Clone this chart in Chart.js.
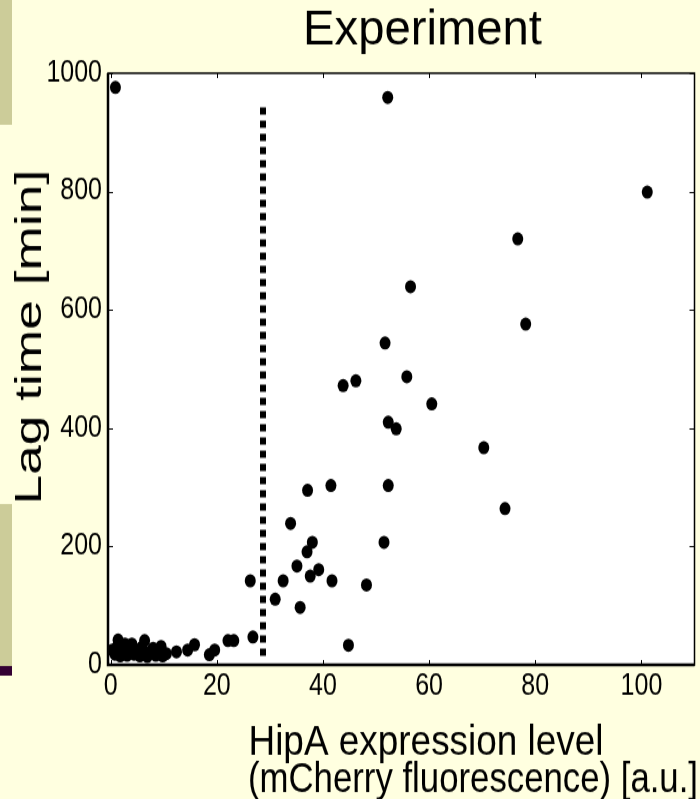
<!DOCTYPE html>
<html>
<head>
<meta charset="utf-8">
<script src="https://cdn.jsdelivr.net/npm/chart.js@4.4.0/dist/chart.umd.min.js"></script>
<style>
  html, body { margin: 0; padding: 0; background: #ffffe0; }
  body { width: 700px; height: 799px; }
  /* the slide picture is stretched vertically, so the canvas is too */
  #wrap { width: 700px; height: 666px; transform: scale(1, 1.2); transform-origin: 0 0; }
  canvas { display: block; }
</style>
</head>
<body>
<div id="wrap"><canvas id="lagChart" width="700" height="666" style="width:700px;height:666px"></canvas></div>
<script>
// HipA expression level (mCherry fluorescence, a.u.)
const expression = [
  0.9, 52.2, 101.1, 76.7, 56.5, 78.2, 51.7, 43.8, 46.2, 55.8,
  60.5, 52.3, 53.8, 70.3, 74.3, 52.3, 41.5, 37.1, 33.9, 38.0,
  51.5, 37.0, 35.1, 39.2, 37.6, 26.3, 32.5, 41.7, 48.2, 31.0,
  35.7, 44.8, 26.8, 23.2, 22.1, 19.6, 18.6, 15.8, 14.5, 12.4,
  9.5, 9.8, 6.4, 1.4, 0.3, 0.8, 1.2, 1.8, 2.3, 2.7,
  3.1, 3.6, 4.0, 4.4, 4.9, 5.5, 5.9, 6.3, 6.9, 7.5,
  8.0, 8.5, 10.5
];
// lag time [min]
const lagTime = [
  976, 959, 799, 720, 639, 576, 544, 472, 480, 487,
  441, 410, 399, 367, 264, 303, 303, 295, 239, 207,
  207, 191, 167, 161, 150, 142, 142, 142, 135, 111,
  97, 33, 47, 41, 41, 25, 17, 34, 25, 22,
  31, 15, 41, 42, 25, 18, 30, 15, 24, 35,
  16, 27, 35, 18, 25, 15, 30, 22, 14, 20,
  28, 16, 19
];
// dotted threshold line
const thresholdX = [28.7, 28.7];
const thresholdY = [15, 950];

const xTicks = [0, 20, 40, 60, 80, 100];
const yTicks = [0, 200, 400, 600, 800, 1000];

const FONT = '"Liberation Sans", Arial, sans-serif';

function fittedText(ctx, text, x, y, size, width, angle, baseline) {
  ctx.save();
  ctx.translate(x, y);
  ctx.rotate(angle);
  ctx.font = size + 'px ' + FONT;
  const w = ctx.measureText(text).width;
  ctx.scale(width / w, 1);
  ctx.textAlign = 'center';
  ctx.textBaseline = baseline;
  ctx.fillStyle = '#000';
  ctx.fillText(text, 0, 0);
  ctx.restore();
}

const slideDecor = {
  id: 'slideDecor',
  beforeDraw(chart) {
    const { ctx, chartArea: a } = chart;
    ctx.save();
    ctx.fillStyle = '#ffffe0';
    ctx.fillRect(0, 0, chart.width, chart.height);
    ctx.fillStyle = '#cccc99';
    ctx.fillRect(0, 0, 12, 104);
    ctx.fillRect(0, 420, 12, 135);
    ctx.fillStyle = '#330033';
    ctx.fillRect(0, 555, 12, 8);
    ctx.fillStyle = '#ffffff';
    ctx.fillRect(a.left, a.top, a.right - a.left, a.bottom - a.top);
    ctx.restore();
  },
  afterDraw(chart) {
    const { ctx, chartArea: a, scales } = chart;
    ctx.save();
    ctx.strokeStyle = '#000';
    // inward ticks, all four sides
    ctx.lineWidth = 1;
    ctx.beginPath();
    scales.x.ticks.forEach(t => {
      const px = Math.round(scales.x.getPixelForValue(t.value)) + 0.5;
      ctx.moveTo(px, a.bottom); ctx.lineTo(px, a.bottom - 4);
      ctx.moveTo(px, a.top); ctx.lineTo(px, a.top + 4);
    });
    scales.y.ticks.forEach(t => {
      const py = Math.round(scales.y.getPixelForValue(t.value)) + 0.5;
      ctx.moveTo(a.left, py); ctx.lineTo(a.left + 5, py);
      ctx.moveTo(a.right, py); ctx.lineTo(a.right - 5, py);
    });
    ctx.stroke();
    // axes box
    ctx.lineWidth = 1.5;
    ctx.strokeRect(a.left, a.top, a.right - a.left, a.bottom - a.top);
    ctx.lineWidth = 2.5;
    ctx.beginPath();
    ctx.moveTo(a.left, a.top); ctx.lineTo(a.left, a.bottom); ctx.lineTo(a.right, a.bottom);
    ctx.stroke();
    ctx.restore();

    fittedText(ctx, 'Experiment', 422.5, 37, 41, 239, 0, 'alphabetic');
    fittedText(ctx, 'Lag time [min]', 31.5, 281, 36, 279, -Math.PI / 2, 'middle');
    fittedText(ctx, 'HipA expression level', 426, 629, 35, 355, 0, 'alphabetic');
    fittedText(ctx, '(mCherry fluorescence) [a.u.]', 473, 660, 35, 450, 0, 'alphabetic');
  }
};

new Chart(document.getElementById('lagChart').getContext('2d'), {
  type: 'scatter',
  data: {
    datasets: [{
      label: 'cells',
      data: expression.map((x, i) => ({ x, y: lagTime[i] })),
      backgroundColor: '#000',
      borderWidth: 0,
      pointRadius: 5.5,
      pointHoverRadius: 5.5
    }, {
      label: 'threshold',
      data: thresholdX.map((x, i) => ({ x, y: thresholdY[i] })),
      showLine: true,
      borderColor: '#000',
      borderWidth: 6,
      borderDash: [6, 5],
      borderCapStyle: 'butt',
      pointRadius: 0
    }]
  },
  options: {
    responsive: false,
    animation: false,
    layout: { padding: { top: 61, right: 4, left: 0, bottom: 0 } },
    plugins: { legend: { display: false }, tooltip: { enabled: false } },
    scales: {
      x: {
        type: 'linear',
        min: -0.5,
        max: 110,
        afterBuildTicks: s => { s.ticks = xTicks.map(v => ({ value: v })); },
        afterFit: s => { s.height = 112; },
        grid: { display: false, drawTicks: false },
        border: { display: false },
        ticks: { color: '#000', font: { family: FONT, size: 25 }, padding: 3, maxRotation: 0,
                 callback: v => String(v) }
      },
      y: {
        type: 'linear',
        min: 0,
        max: 1000,
        afterBuildTicks: s => { s.ticks = yTicks.map(v => ({ value: v })); },
        afterFit: s => { s.width = 108; },
        grid: { display: false, drawTicks: false },
        border: { display: false },
        ticks: { color: '#000', font: { family: FONT, size: 25 }, padding: 6,
                 callback: v => String(v) }
      }
    }
  },
  plugins: [slideDecor]
});
</script>
</body>
</html>
